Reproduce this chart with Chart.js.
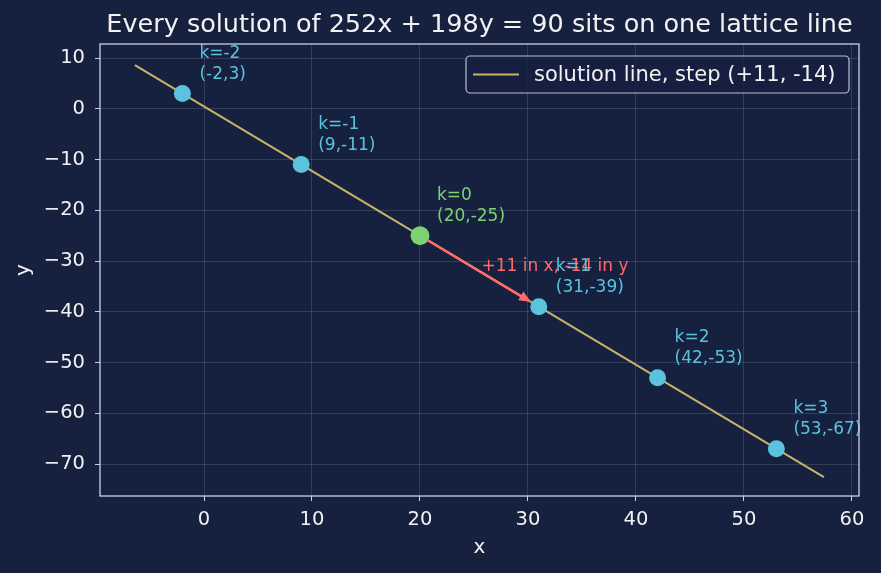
<!DOCTYPE html>
<html>
<head>
<meta charset="utf-8">
<script src="https://cdn.jsdelivr.net/npm/chart.js@4.4.1/dist/chart.umd.min.js"></script>
<style>
  html, body { margin: 0; padding: 0; background: #16203f; }
  #wrap { width: 881px; height: 573px; }
</style>
</head>
<body>
<div id="wrap"><canvas id="myChart" width="881" height="573"></canvas></div>
<script>
// datos del grafico
const kVals = [-2, -1, 0, 1, 2, 3];
const solX = [-2, 9, 20, 31, 42, 53];
const solY = [3, -11, -25, -39, -53, -67];
const lineX = [-6.4, 57.4];
const lineY = [8.6, -72.6];
const stepFrom = [20, -25];
const stepTo = [31, -39];
const xTicks = [0, 10, 20, 30, 40, 50, 60];
const yTicks = [10, 0, -10, -20, -30, -40, -50, -60, -70];

const titulo = "Every solution of 252x + 198y = 90 sits on one lattice line";
const leyenda = "solution line, step (+11, -14)";
const textoPaso = "+11 in x, -14 in y";

const fondo = "#16203f";
const oro = "#c9b36b";
const cian = "#5cc3de";
const verde = "#7dd36f";
const rojo = "#ff6b6b";
const borde = "#c9d1e3";
const texto = "#f2f2f2";
const fuente = "'DejaVu Sans', sans-serif";

const colores = kVals.map((k) => (k === 0 ? verde : cian));
const radios = kVals.map((k) => (k === 0 ? 9.5 : 8.5));

const canvas = document.getElementById("myChart");

/* plugin para fondo, marco, titulo, etiquetas, flecha y leyenda */
const extras = {
  id: "extras",
  beforeDraw(chart) {
    const ctx = chart.ctx;
    ctx.save();
    ctx.fillStyle = fondo;
    ctx.fillRect(0, 0, chart.width, chart.height);
    ctx.restore();
  },
  afterDatasetsDraw(chart) {
    const ctx = chart.ctx;
    const xs = chart.scales.x;
    const ys = chart.scales.y;
    const a = chart.chartArea;
    ctx.save();

    // flecha del paso
    const x0 = xs.getPixelForValue(stepFrom[0]);
    const y0 = ys.getPixelForValue(stepFrom[1]);
    const x1 = xs.getPixelForValue(stepTo[0]);
    const y1 = ys.getPixelForValue(stepTo[1]);
    const ang = Math.atan2(y1 - y0, x1 - x0);
    const sx = x0 + Math.cos(ang) * 8;
    const sy = y0 + Math.sin(ang) * 8;
    const ex = x1 - Math.cos(ang) * 9;
    const ey = y1 - Math.sin(ang) * 9;
    const cabeza = 13;
    ctx.strokeStyle = rojo;
    ctx.fillStyle = rojo;
    ctx.lineWidth = 2.6;
    ctx.beginPath();
    ctx.moveTo(sx, sy);
    ctx.lineTo(ex - Math.cos(ang) * cabeza * 0.6, ey - Math.sin(ang) * cabeza * 0.6);
    ctx.stroke();
    ctx.beginPath();
    ctx.moveTo(ex, ey);
    ctx.lineTo(ex - cabeza * Math.cos(ang - 0.4), ey - cabeza * Math.sin(ang - 0.4));
    ctx.lineTo(ex - cabeza * Math.cos(ang + 0.4), ey - cabeza * Math.sin(ang + 0.4));
    ctx.closePath();
    ctx.fill();

    ctx.font = "17px " + fuente;
    ctx.textAlign = "left";
    ctx.textBaseline = "middle";
    ctx.fillText(textoPaso, (x0 + x1) / 2 + 2, (y0 + y1) / 2 - 5);

    // etiquetas de cada punto
    ctx.textBaseline = "alphabetic";
    for (let i = 0; i < kVals.length; i++) {
      const px = xs.getPixelForValue(solX[i]);
      const py = ys.getPixelForValue(solY[i]);
      ctx.fillStyle = colores[i];
      ctx.fillText(`k=${kVals[i]}`, px + 17, py - 36);
      ctx.fillText(`(${solX[i]},${solY[i]})`, px + 17, py - 15);
    }

    // marco
    ctx.strokeStyle = borde;
    ctx.lineWidth = 1.3;
    ctx.strokeRect(a.left, a.top, a.right - a.left, a.bottom - a.top);

    // leyenda
    const lx = a.right - 393, ly = a.top + 12, lw = 383, lh = 37;
    ctx.fillStyle = "rgba(22,32,63,0.85)";
    ctx.beginPath();
    ctx.roundRect(lx, ly, lw, lh, 4);
    ctx.fill();
    ctx.strokeStyle = "rgba(201,209,227,0.9)";
    ctx.lineWidth = 1.2;
    ctx.stroke();
    ctx.strokeStyle = oro;
    ctx.lineWidth = 2;
    ctx.beginPath();
    ctx.moveTo(lx + 7, ly + lh / 2);
    ctx.lineTo(lx + 53, ly + lh / 2);
    ctx.stroke();
    ctx.fillStyle = texto;
    ctx.font = "21px " + fuente;
    ctx.textBaseline = "middle";
    ctx.fillText(leyenda, lx + 68, ly + lh / 2 + 1);

    // titulo y nombres de ejes
    ctx.textAlign = "center";
    ctx.font = "25.5px " + fuente;
    ctx.fillText(titulo, (a.left + a.right) / 2, 25);
    ctx.font = "20px " + fuente;
    ctx.fillText("x", (a.left + a.right) / 2, 548);
    ctx.translate(24, (a.top + a.bottom) / 2);
    ctx.rotate(-Math.PI / 2);
    ctx.fillText("y", 0, 0);
    ctx.restore();
  },
};

const config = {
  type: "scatter",
  data: {
    datasets: [
      {
        label: leyenda,
        type: "line",
        data: lineX.map((x, i) => ({ x: x, y: lineY[i] })),
        borderColor: oro,
        borderWidth: 2,
        pointRadius: 0,
        fill: false,
        order: 2,
      },
      {
        label: "soluciones",
        data: solX.map((x, i) => ({ x: x, y: solY[i] })),
        backgroundColor: colores,
        borderColor: colores,
        pointRadius: radios,
        borderWidth: 0,
        order: 1,
      },
    ],
  },
  options: {
    responsive: false,
    animation: false,
    layout: { padding: { left: 0, right: 22, top: 44, bottom: 0 } },
    plugins: { legend: { display: false }, tooltip: { enabled: false } },
    scales: {
      x: {
        type: "linear",
        min: -9.63,
        max: 60.65,
        afterBuildTicks: (scale) => {
          scale.ticks = xTicks.map((v) => ({ value: v }));
        },
        afterFit: (scale) => {
          scale.height = 77;
        },
        ticks: { color: texto, font: { size: 19.5, family: fuente }, padding: 7, maxRotation: 0 },
        grid: { color: "rgba(255,255,255,0.13)", tickColor: borde, tickLength: 5 },
        border: { display: false },
      },
      y: {
        type: "linear",
        min: -76.3,
        max: 12.76,
        afterBuildTicks: (scale) => {
          scale.ticks = yTicks.map((v) => ({ value: v }));
        },
        afterFit: (scale) => {
          scale.width = 100;
        },
        ticks: {
          color: texto,
          font: { size: 19.5, family: fuente },
          padding: 10,
          callback: (v) => (v < 0 ? "\u2212" + Math.abs(v) : String(v)),
        },
        grid: { color: "rgba(255,255,255,0.13)", tickColor: borde, tickLength: 5 },
        border: { display: false },
      },
    },
  },
  plugins: [extras],
};

new Chart(canvas, config);
</script>
</body>
</html>
